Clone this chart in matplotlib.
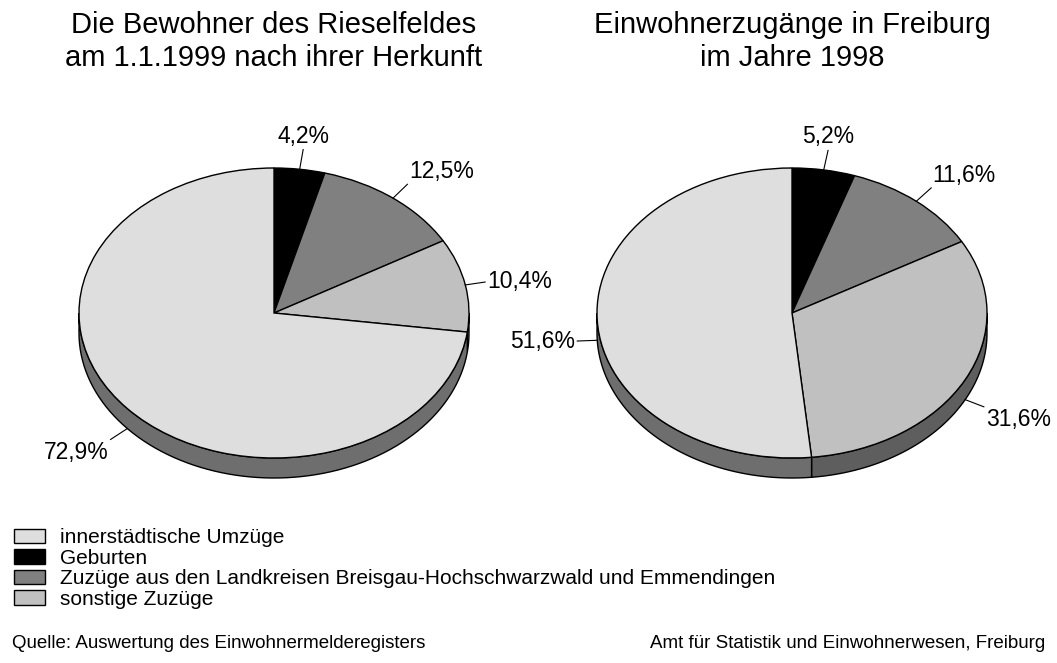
import numpy as np
import matplotlib
matplotlib.use("Agg")
import matplotlib.pyplot as plt
from matplotlib.patches import Patch

plt.rcParams["font.family"] = ["Liberation Sans", "DejaVu Sans"]

categories = [
    "Geburten",
    "Zuzüge aus den Landkreisen Breisgau-Hochschwarzwald und Emmendingen",
    "sonstige Zuzüge",
    "innerstädtische Umzüge",
]
rieselfeld_values = [4.2, 12.5, 10.4, 72.9]
freiburg_values = [5.2, 11.6, 31.6, 51.6]

titles = [
    "Die Bewohner des Rieselfeldes\nam 1.1.1999 nach ihrer Herkunft",
    "Einwohnerzugänge in Freiburg\nim Jahre 1998",
]

top_colors = ["#000000", "#808080", "#c0c0c0", "#dedede"]
side_colors = ["#000000", "#404040", "#5e5e5e", "#6e6e6e"]
legend_order = [3, 0, 1, 2]

W, H = 1057, 663
SX, SY = 195.0, 145.0      # pixels per data unit (ellipse radii)
DEPTH = 20.0 / SY          # thickness of the pie in data units


def draw_pie(fig, cx, cy, values, title):
    xl, yl = 1.4, 1.4
    ax = fig.add_axes([(cx - xl * SX) / W, (H - cy - yl * SY) / H,
                       2 * xl * SX / W, 2 * yl * SY / H])

    # side band of the pie (only the front half is visible)
    cum = np.concatenate([[0], np.cumsum(values)]) / np.sum(values)
    for i in range(len(values)):
        a_start = 90 - 360 * cum[i + 1]
        a_end = 90 - 360 * cum[i]
        for lo, hi in [(-180, 0), (180, 360)]:
            s, e = max(a_start, lo), min(a_end, hi)
            if e <= s:
                continue
            t = np.radians(np.linspace(s, e, 80))
            xs = np.concatenate([np.cos(t), np.cos(t[::-1])])
            ys = np.concatenate([np.sin(t), np.sin(t[::-1]) - DEPTH])
            ax.fill(xs, ys, facecolor=side_colors[i], edgecolor="black",
                    linewidth=1, zorder=1)

    ax.pie(values, colors=top_colors, startangle=90, counterclock=False,
           radius=1, wedgeprops=dict(edgecolor="black", linewidth=1, zorder=2))
    ax.set_aspect("auto")
    ax.set_xlim(-xl, xl)
    ax.set_ylim(-yl, yl)
    ax.axis("off")

    # labels with short leader lines
    for i, v in enumerate(values):
        mid = (cum[i] + cum[i + 1]) / 2
        theta = 360 * mid                    # clockwise from top
        phi = np.radians(90 - theta)
        px, py = np.cos(phi), np.sin(phi)
        if py < 0:
            py -= DEPTH
        ux, uy = np.cos(phi) * SX, np.sin(phi) * SY
        n = np.hypot(ux, uy)
        ux, uy = ux / n, uy / n
        L = 20
        ex, ey = px + ux * L / SX, py + uy * L / SY
        ax.plot([px, ex], [py, ey], color="black", linewidth=0.8,
                clip_on=False, zorder=3)
        g = 2
        tx, ty = ex + ux * g / SX, ey + uy * g / SY
        if theta < 20:
            ha, va = "center", "bottom"
        elif theta < 70:
            ha, va = "left", "bottom"
        elif theta < 110:
            ha, va = "left", "center"
        elif theta < 180:
            ha, va = "left", "top"
        elif theta < 250:
            ha, va = "right", "top"
        elif theta < 290:
            ha, va = "right", "center"
        else:
            ha, va = "right", "bottom"
        ax.text(tx, ty, f"{v:.1f}%".replace(".", ","), ha=ha, va=va,
                fontsize=16.5, clip_on=False)

    fig.text(cx / W, 1 - 11 / H, title, ha="center", va="top",
             fontsize=21, linespacing=1.22)


fig = plt.figure(figsize=(W / 100, H / 100), dpi=100)

draw_pie(fig, 274, 313, rieselfeld_values, titles[0])
draw_pie(fig, 792, 313, freiburg_values, titles[1])

handles = [Patch(facecolor=top_colors[i], edgecolor="black", linewidth=1,
                 label=categories[i]) for i in legend_order]
fig.legend(handles=handles, loc="upper left",
           bbox_to_anchor=(6 / W, 1 - 520 / H), frameon=False,
           fontsize=15, handlelength=1.45, handleheight=0.72,
           handletextpad=0.72, labelspacing=0.07, borderaxespad=0)

fig.text(12 / W, 1 - 643 / H, "Quelle: Auswertung des Einwohnermelderegisters",
         ha="left", va="center", fontsize=13.5)
fig.text(1045 / W, 1 - 643 / H, "Amt für Statistik und Einwohnerwesen, Freiburg",
         ha="right", va="center", fontsize=13.5)

fig.savefig("out.png", dpi=100)
